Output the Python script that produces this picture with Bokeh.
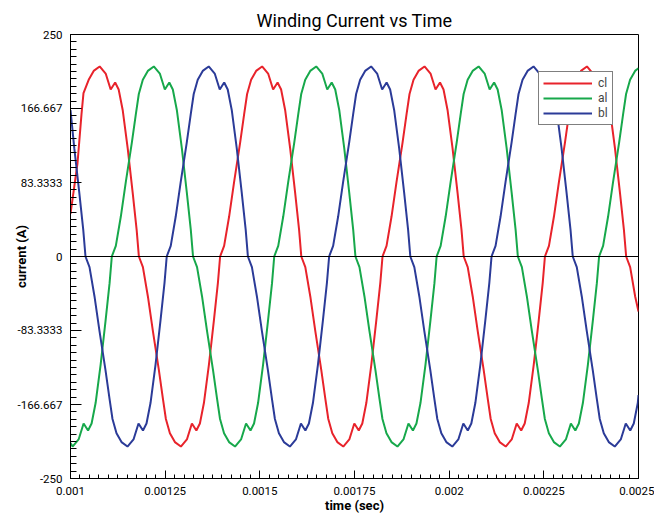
import numpy as np
from bokeh.plotting import figure
from bokeh.models import FixedTicker, Span, Legend, LegendItem, Range1d
from bokeh.embed import file_html
from bokeh.resources import INLINE

FONT = "Roboto"

# ---- data (time in microseconds, current in A) ----
cl_time_us = [
    1000.0, 1018.5, 1029.0, 1034.3, 1048.0, 1061.2, 1077.0, 1092.9, 1106.1, 1117.9, 1127.2, 1137.8, 1151.0, 1164.2, 1174.7,
    1180.6, 1191.2, 1204.4, 1217.6, 1233.4, 1244.0, 1251.9, 1262.5, 1275.7, 1291.5, 1307.4, 1320.6, 1332.4, 1341.7, 1352.3, 1365.5, 1378.7, 1389.2,
    1395.1, 1405.7, 1418.9, 1432.1, 1447.9, 1458.5, 1466.4, 1477.0, 1490.2, 1506.0, 1521.9, 1535.1, 1546.9, 1556.2, 1566.8, 1580.0, 1593.2, 1603.7,
    1609.5, 1620.1, 1633.3, 1646.5, 1662.3, 1672.9, 1680.8, 1691.4, 1704.6, 1720.4, 1736.3, 1749.5, 1761.3, 1770.6, 1781.2, 1794.4, 1807.6, 1818.1,
    1824.0, 1834.6, 1847.8, 1861.0, 1876.8, 1887.4, 1895.3, 1905.9, 1919.1, 1934.9, 1950.8, 1964.0, 1975.8, 1985.1, 1995.7, 2008.9, 2022.1, 2032.6,
    2038.4, 2049.0, 2062.2, 2075.4, 2091.2, 2101.8, 2109.7, 2120.3, 2133.5, 2149.3, 2165.2, 2178.4, 2190.2, 2199.5, 2210.1, 2223.3, 2236.5, 2247.0,
    2252.9, 2263.5, 2276.7, 2289.9, 2305.7, 2316.3, 2324.2, 2334.8, 2348.0, 2363.8, 2379.7, 2392.9, 2404.7, 2414.0, 2424.6, 2437.8, 2451.0, 2461.5,
    2467.4, 2478.0, 2491.2, 2500.0,
]
cl_current = [
    48, 105, 160, 184, 199, 209, 214, 206, 188, 196, 188, 165, 122, 72, 30,
    0, -12, -45, -84, -128, -160, -183, -199, -209, -214, -206, -188, -196, -188, -165, -122, -72, -30,
    0, 12, 45, 84, 128, 160, 183, 199, 209, 214, 206, 188, 196, 188, 165, 122, 72, 30,
    0, -12, -45, -84, -128, -160, -183, -199, -209, -214, -206, -188, -196, -188, -165, -122, -72, -30,
    0, 12, 45, 84, 128, 160, 183, 199, 209, 214, 206, 188, 196, 188, 165, 122, 72, 30,
    0, -12, -45, -84, -128, -160, -183, -199, -209, -214, -206, -188, -196, -188, -165, -122, -72, -30,
    0, 12, 45, 84, 128, 160, 183, 199, 209, 214, 206, 188, 196, 188, 165, 122, 72, 30,
    0, -12, -45, -62,
]

al_time_us = [
    1000.0, 1005.5, 1021.4, 1034.6, 1046.4, 1055.7, 1066.3, 1079.5, 1092.7, 1103.2,
    1109.1, 1119.7, 1132.9, 1146.1, 1161.9, 1172.5, 1180.4, 1191.0, 1204.2, 1220.0, 1235.9, 1249.1, 1260.9, 1270.2, 1280.8, 1294.0, 1307.2, 1317.7,
    1323.6, 1334.2, 1347.4, 1360.6, 1376.4, 1387.0, 1394.9, 1405.5, 1418.7, 1434.5, 1450.4, 1463.6, 1475.4, 1484.7, 1495.3, 1508.5, 1521.7, 1532.2,
    1538.0, 1548.6, 1561.8, 1575.0, 1590.8, 1601.4, 1609.3, 1619.9, 1633.1, 1648.9, 1664.8, 1678.0, 1689.8, 1699.1, 1709.7, 1722.9, 1736.1, 1746.6,
    1752.5, 1763.1, 1776.3, 1789.5, 1805.3, 1815.9, 1823.8, 1834.4, 1847.6, 1863.4, 1879.3, 1892.5, 1904.3, 1913.6, 1924.2, 1937.4, 1950.6, 1961.1,
    1966.9, 1977.5, 1990.7, 2003.9, 2019.7, 2030.3, 2038.2, 2048.8, 2062.0, 2077.8, 2093.7, 2106.9, 2118.7, 2128.0, 2138.6, 2151.8, 2165.0, 2175.5,
    2181.4, 2192.0, 2205.2, 2218.4, 2234.2, 2244.8, 2252.7, 2263.3, 2276.5, 2292.3, 2308.2, 2321.4, 2333.2, 2342.5, 2353.1, 2366.3, 2379.5, 2390.0,
    2395.9, 2406.5, 2419.7, 2432.9, 2448.7, 2459.3, 2467.2, 2477.8, 2491.0, 2500.0,
]
al_current = [
    -210, -214, -206, -188, -196, -188, -165, -122, -72, -30,
    0, 12, 45, 84, 128, 160, 183, 199, 209, 214, 206, 188, 196, 188, 165, 122, 72, 30,
    0, -12, -45, -84, -128, -160, -183, -199, -209, -214, -206, -188, -196, -188, -165, -122, -72, -30,
    0, 12, 45, 84, 128, 160, 183, 199, 209, 214, 206, 188, 196, 188, 165, 122, 72, 30,
    0, -12, -45, -84, -128, -160, -183, -199, -209, -214, -206, -188, -196, -188, -165, -122, -72, -30,
    0, 12, 45, 84, 128, 160, 183, 199, 209, 214, 206, 188, 196, 188, 165, 122, 72, 30,
    0, -12, -45, -84, -128, -160, -183, -199, -209, -214, -206, -188, -196, -188, -165, -122, -72, -30,
    0, 12, 45, 84, 128, 160, 183, 199, 209, 212,
]

bl_time_us = [
    1000.0, 1010.0, 1023.2, 1033.7,
    1039.6, 1050.2, 1063.4, 1076.6, 1092.4, 1103.0, 1110.9, 1121.5, 1134.7, 1150.5, 1166.4, 1179.6, 1191.4, 1200.7, 1211.3, 1224.5, 1237.7, 1248.2,
    1254.1, 1264.7, 1277.9, 1291.1, 1306.9, 1317.5, 1325.4, 1336.0, 1349.2, 1365.0, 1380.9, 1394.1, 1405.9, 1415.2, 1425.8, 1439.0, 1452.2, 1462.7,
    1468.5, 1479.1, 1492.3, 1505.5, 1521.3, 1531.9, 1539.8, 1550.4, 1563.6, 1579.4, 1595.3, 1608.5, 1620.3, 1629.6, 1640.2, 1653.4, 1666.6, 1677.1,
    1683.0, 1693.6, 1706.8, 1720.0, 1735.8, 1746.4, 1754.3, 1764.9, 1778.1, 1793.9, 1809.8, 1823.0, 1834.8, 1844.1, 1854.7, 1867.9, 1881.1, 1891.6,
    1897.4, 1908.0, 1921.2, 1934.4, 1950.2, 1960.8, 1968.7, 1979.3, 1992.5, 2008.3, 2024.2, 2037.4, 2049.2, 2058.5, 2069.1, 2082.3, 2095.5, 2106.0,
    2111.9, 2122.5, 2135.7, 2148.9, 2164.7, 2175.3, 2183.2, 2193.8, 2207.0, 2222.8, 2238.7, 2251.9, 2263.7, 2273.0, 2283.6, 2296.8, 2310.0, 2320.5,
    2326.4, 2337.0, 2350.2, 2363.4, 2379.2, 2389.8, 2397.7, 2408.3, 2421.5, 2437.3, 2453.2, 2466.4, 2478.2, 2487.5, 2498.1, 2500.0,
]
bl_current = [
    165, 122, 72, 30,
    0, -12, -45, -84, -128, -160, -183, -199, -209, -214, -206, -188, -196, -188, -165, -122, -72, -30,
    0, 12, 45, 84, 128, 160, 183, 199, 209, 214, 206, 188, 196, 188, 165, 122, 72, 30,
    0, -12, -45, -84, -128, -160, -183, -199, -209, -214, -206, -188, -196, -188, -165, -122, -72, -30,
    0, 12, 45, 84, 128, 160, 183, 199, 209, 214, 206, 188, 196, 188, 165, 122, 72, 30,
    0, -12, -45, -84, -128, -160, -183, -199, -209, -214, -206, -188, -196, -188, -165, -122, -72, -30,
    0, 12, 45, 84, 128, 160, 183, 199, 209, 214, 206, 188, 196, 188, 165, 122, 72, 30,
    0, -12, -45, -84, -128, -160, -183, -199, -209, -214, -206, -188, -196, -188, -165, -156,
]

series_names = ["cl", "al", "bl"]
series_colors = ["#e8232b", "#17a84b", "#2b3b98"]

x_tick_values = [0.001, 0.00125, 0.0015, 0.00175, 0.002, 0.00225, 0.0025]
x_tick_labels = ["0.001", "0.00125", "0.0015", "0.00175", "0.002", "0.00225", "0.0025"]
y_tick_values = [-250, -166.667, -83.3333, 0, 83.3333, 166.667, 250]
y_tick_labels = ["-250", "-166.667", "-83.3333", "0", "83.3333", "166.667", "250"]

# ---- figure ----
p = figure(width=654, height=518, output_backend="svg", toolbar_location=None,
           x_range=Range1d(0.001, 0.0025), y_range=Range1d(-250, 250),
           min_border_left=70, min_border_right=16, min_border_top=34, min_border_bottom=40)

p.background_fill_color = "white"
p.border_fill_color = "white"
p.outline_line_color = "black"
p.outline_line_alpha = 1.0
p.outline_line_width = 1
p.xgrid.visible = False
p.ygrid.visible = False

p.title.text = "Winding Current vs Time"
p.title.align = "center"
p.title.text_font = FONT
p.title.text_font_size = "18px"
p.title.text_font_style = "normal"
p.title.text_color = "black"
p.title.standoff = 7

# x axis
p.xaxis.ticker = FixedTicker(ticks=x_tick_values,
                             minor_ticks=np.linspace(0.001, 0.0025, 61).tolist())
p.xaxis.major_label_overrides = dict(zip(x_tick_values, x_tick_labels))
p.xaxis.major_tick_in = 8
p.xaxis.major_tick_out = 0
p.xaxis.minor_tick_in = 4
p.xaxis.minor_tick_out = 0
p.xaxis.major_label_standoff = 8
p.xaxis.axis_label = "time (sec)"
p.xaxis.axis_label_standoff = 0

# y axis
p.yaxis.ticker = FixedTicker(ticks=y_tick_values,
                             minor_ticks=np.linspace(-250, 250, 61).tolist())
p.yaxis.major_label_overrides = dict(zip(y_tick_values, y_tick_labels))
p.yaxis.major_tick_in = 11
p.yaxis.major_tick_out = 0
p.yaxis.minor_tick_in = 6
p.yaxis.minor_tick_out = 0
p.yaxis.major_label_standoff = 8
p.yaxis.axis_label = "current (A)"
p.yaxis.axis_label_standoff = -14

for ax in (p.xaxis[0], p.yaxis[0]):
    ax.axis_line_color = "black"
    ax.major_tick_line_color = "black"
    ax.minor_tick_line_color = "black"
    ax.major_label_text_font = FONT
    ax.major_label_text_font_size = "11.5px"
    ax.major_label_text_color = "black"
    ax.axis_label_text_font = FONT
    ax.axis_label_text_font_size = "13px"
    ax.axis_label_text_font_style = "bold"
    ax.axis_label_text_color = "black"

p.add_layout(Span(location=0, dimension="width", line_color="black", line_width=1))

times = [cl_time_us, al_time_us, bl_time_us]
currents = [cl_current, al_current, bl_current]
items = []
for name, color, t_us, cur in zip(series_names, series_colors, times, currents):
    t_sec = np.array(t_us) * 1e-6
    r = p.line(t_sec, cur, line_color=color, line_width=2)
    items.append(LegendItem(label=name, renderers=[r]))

legend = Legend(items=items, location=(468, 353))
legend.border_line_color = "black"
legend.border_line_width = 1
legend.background_fill_color = "white"
legend.background_fill_alpha = 1.0
legend.label_text_font = FONT
legend.label_text_font_size = "12px"
legend.glyph_width = 49
legend.glyph_height = 12
legend.label_height = 12
legend.label_width = 8
legend.spacing = 1
legend.padding = 4
legend.margin = 0
legend.label_standoff = 6
p.add_layout(legend)

open("out.html", "w").write(file_html(p, INLINE))
